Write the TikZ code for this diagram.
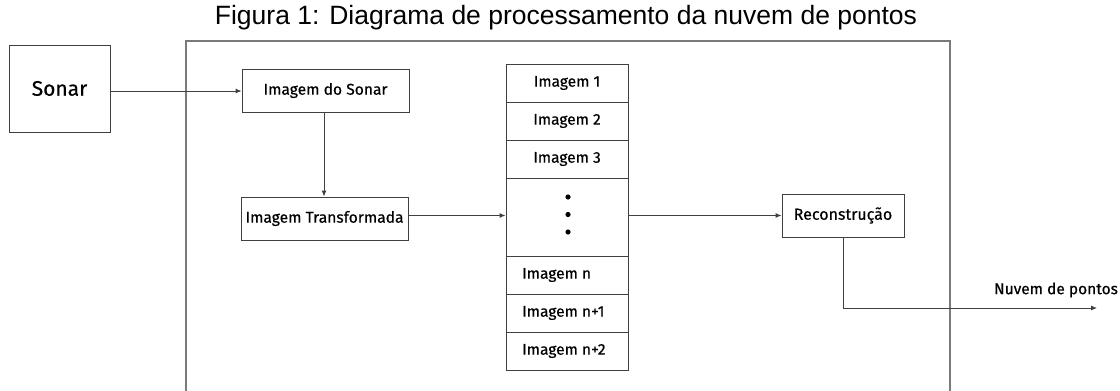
\documentclass[tikz,border=0pt]{standalone}
\usepackage{fontspec}
\setmainfont{Liberation Sans}
\newfontfamily\dinfont[FakeBold=0.4]{Fira Sans}
\usetikzlibrary{arrows.meta}
\definecolor{framegray}{HTML}{7A7A7A}
\definecolor{boxgray}{HTML}{404040}
\tikzset{
  box/.style={draw=boxgray, line width=0.9pt, fill=white, inner sep=0pt, font=\dinfont},
  cell/.style={box, minimum width=122pt, minimum height=38pt, font=\dinfont\fontsize{15.5}{18}\selectfont},
  arr/.style={draw=boxgray, line width=0.9pt, -{Latex[length=6pt,width=5pt]}},
  conn/.style={draw=boxgray, line width=0.9pt},
}
\begin{document}
\begin{tikzpicture}[x=1pt,y=-1pt]
\useasboundingbox (0,0) rectangle (1120,391);
% title
\node[font=\fontsize{26.5}{30}\selectfont, inner sep=0pt] (title) at (566,18) {Figura 1: Diagrama de processamento da nuvem de pontos};
% frame
\draw[framegray, line width=1.5pt] (186,391) -- (186,41) -- (950,41) -- (950,391);
% sonar
\node[box, minimum width=101pt, minimum height=87pt, font=\dinfont\fontsize{21}{24}\selectfont] (sonar) at (59.5,88.5) {Sonar};
\node[box, minimum width=167pt, minimum height=43pt, font=\dinfont\fontsize{15.6}{18}\selectfont] (imgsonar) at (325.5,90.5) {Imagem do Sonar};
\node[box, minimum width=167pt, minimum height=43pt, font=\dinfont\fontsize{15.6}{18}\selectfont] (imgtrans) at (324.5,218.5) {Imagem Transformada};
% stack
\node[cell] (r1) at (567,83) {Imagem 1};
\node[cell] (r2) at (567,121) {Imagem 2};
\node[cell] (r3) at (567,159) {Imagem 3};
\node[cell, minimum height=78pt] (dots) at (567,217) {};
\node[cell] (rn) at (567,275) {};
\node[cell] (rn1) at (567,313) {};
\node[cell] (rn2) at (567,351) {};
\node[anchor=west, inner sep=0pt, font=\dinfont\fontsize{15.5}{18}\selectfont] (tn) at (522,275) {Imagem n};
\node[anchor=west, inner sep=0pt, font=\dinfont\fontsize{15.5}{18}\selectfont] (tn1) at (522,313) {Imagem n+1};
\node[anchor=west, inner sep=0pt, font=\dinfont\fontsize{15.5}{18}\selectfont] (tn2) at (522,351) {Imagem n+2};
\fill[black] (568,197) circle (2.6pt) (568,214.5) circle (2.6pt) (568,232) circle (2.6pt);
% reconstruction
\node[box, minimum width=122pt, minimum height=43pt, font=\dinfont\fontsize{16}{19}\selectfont] (recon) at (843,215.5) {Reconstrução};
\node[inner sep=0pt, font=\dinfont\fontsize{15.5}{18}\selectfont] (nuvem) at (1056,290) {Nuvem de pontos};
\coordinate (out) at (1097,308);
% connectors
\draw[arr] (sonar.east |- 0,91) -- (imgsonar.west |- 0,91);
\draw[arr] (imgsonar.south -| 324,0) -- (imgtrans.north -| 324,0);
\draw[arr] (imgtrans.east |- 0,215.5) -- (dots.west |- 0,215.5);
\draw[arr] (dots.east |- recon.west) -- (recon.west);
\draw[arr] (recon.south) |- (out);
\end{tikzpicture}
\end{document}
